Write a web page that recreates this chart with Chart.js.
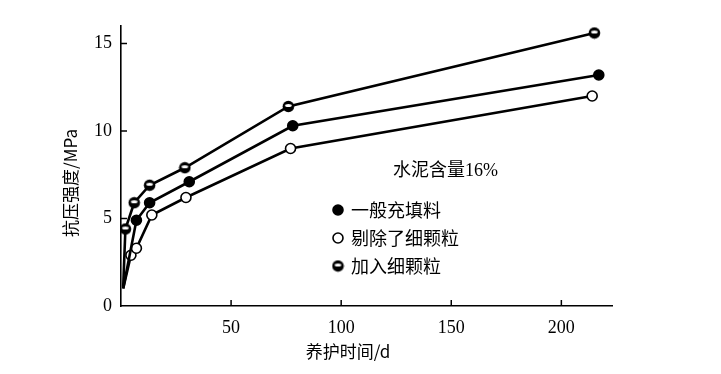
<!DOCTYPE html>
<html>
<head>
<meta charset="utf-8">
<script src="https://cdn.jsdelivr.net/npm/chart.js@4.4.1/dist/chart.umd.min.js"></script>
<style>
  html, body { margin: 0; padding: 0; background: #fff; }
  #wrap { width: 721px; height: 374px; }
</style>
</head>
<body>
<div id="wrap"><canvas id="chart" width="721" height="374"></canvas></div>
<script>
// --- DATA ---
const seriesNames = ['一般充填料', '剔除了细颗粒', '加入细颗粒'];
const xFilled = [1, 7, 13, 31, 78, 217];
const yFilled = [1.0, 4.9, 5.9, 7.1, 10.3, 13.2];
const xOpen = [1, 4.5, 7, 14, 29.5, 77, 214];
const yOpen = [1.0, 2.9, 3.3, 5.2, 6.2, 9.0, 12.0];
const xHalf = [1, 2, 6, 13, 29, 76, 215];
const yHalf = [1.1, 4.4, 5.9, 6.9, 7.9, 11.4, 15.6];
const xTicks = [50, 100, 150, 200];
const yTicks = [0, 5, 10, 15];
const xTitle = '养护时间/d';
const yTitle = '抗压强度/MPa';
const note = '水泥含量16%';

const CJK = '"Noto Sans CJK SC", sans-serif';
const SERIF = '"Liberation Serif", "DejaVu Serif", serif';
const MIXED = '"Liberation Serif", "Noto Sans CJK SC", serif';

// half-filled marker: black dot with a white slit
function halfMarker() {
    const c = document.createElement('canvas');
    c.width = 13; c.height = 13;
    const g = c.getContext('2d');
    g.fillStyle = '#000';
    g.beginPath(); g.arc(6.5, 6.5, 5.8, 0, Math.PI * 2); g.fill();
    g.fillStyle = '#fff';
    g.beginPath(); g.ellipse(6.5, 5.6, 3.3, 1.5, 0, 0, Math.PI * 2); g.fill();
    return c;
}
const halfImg = halfMarker();

const pts = (xs, ys) => xs.map((x, i) => ({ x: x, y: ys[i] }));
const radii = xs => xs.map((x, i) => i === 0 ? 0 : 5);

function drawMarker(ctx, kind, x, y) {
    ctx.save();
    ctx.lineWidth = 1.6;
    ctx.strokeStyle = '#000';
    if (kind === 'half') {
        ctx.drawImage(halfImg, x - 6.5, y - 6.5);
    } else {
        ctx.beginPath(); ctx.arc(x, y, 5, 0, Math.PI * 2);
        ctx.fillStyle = kind === 'filled' ? '#000' : '#fff';
        ctx.fill(); ctx.stroke();
    }
    ctx.restore();
}

// axis titles, inner ticks, note and legend
const decor = {
    id: 'decor',
    afterDraw(chart) {
        const ctx = chart.ctx;
        const xs = chart.scales.x, ys = chart.scales.y;
        ctx.save();
        ctx.strokeStyle = '#000';
        ctx.lineWidth = 1.5;
        xTicks.forEach(v => {
            const px = xs.getPixelForValue(v);
            ctx.beginPath(); ctx.moveTo(px, ys.bottom); ctx.lineTo(px, ys.bottom - 6); ctx.stroke();
        });
        yTicks.slice(1).forEach(v => {
            const py = ys.getPixelForValue(v);
            ctx.beginPath(); ctx.moveTo(xs.left, py); ctx.lineTo(xs.left + 6, py); ctx.stroke();
        });

        ctx.fillStyle = '#000';
        ctx.textBaseline = 'middle';
        ctx.textAlign = 'center';
        ctx.font = '17px ' + CJK;
        ctx.fillText(xTitle, 348, 352);

        ctx.save();
        ctx.translate(71, 183);
        ctx.rotate(-Math.PI / 2);
        ctx.fillText(yTitle, 0, 0);
        ctx.restore();

        ctx.textAlign = 'left';
        ctx.font = '18px ' + MIXED;
        ctx.fillText(note, 393, 171);

        ctx.font = '18px ' + CJK;
        const kinds = ['filled', 'open', 'half'];
        const rows = [210, 238, 266];
        seriesNames.forEach((name, i) => {
            drawMarker(ctx, kinds[i], 338, rows[i]);
            ctx.fillStyle = '#000';
            ctx.fillText(name, 351, rows[i]);
        });
        ctx.restore();
    }
};

const lineStyle = {
    borderColor: '#000',
    borderWidth: 2.6,
    pointBorderColor: '#000',
    pointBorderWidth: 1.6,
    tension: 0,
    fill: false
};

new Chart(document.getElementById('chart'), {
    type: 'line',
    data: {
        datasets: [
            Object.assign({
                label: seriesNames[0], data: pts(xFilled, yFilled),
                pointRadius: radii(xFilled), pointBackgroundColor: '#000'
            }, lineStyle),
            Object.assign({
                label: seriesNames[1], data: pts(xOpen, yOpen),
                pointRadius: radii(xOpen), pointBackgroundColor: '#fff'
            }, lineStyle),
            Object.assign({
                label: seriesNames[2], data: pts(xHalf, yHalf),
                pointRadius: radii(xHalf),
                pointStyle: xHalf.map((x, i) => i === 0 ? 'circle' : halfImg)
            }, lineStyle)
        ]
    },
    options: {
        responsive: false,
        animation: false,
        layout: { padding: { top: 26, right: 109, left: 0, bottom: 0 } },
        plugins: { legend: { display: false }, tooltip: { enabled: false } },
        scales: {
            x: {
                type: 'linear', min: 0, max: 223,
                afterBuildTicks: s => { s.ticks = xTicks.map(v => ({ value: v })); },
                afterFit: s => { s.height = 68; },
                grid: { display: false, drawTicks: false },
                border: { display: true, color: '#000', width: 1.6 },
                ticks: { color: '#000', padding: 11, font: { family: SERIF, size: 18 } }
            },
            y: {
                type: 'linear', min: 0, max: 16,
                afterBuildTicks: s => { s.ticks = yTicks.map(v => ({ value: v })); },
                afterFit: s => { s.width = 121; },
                grid: { display: false, drawTicks: false },
                border: { display: true, color: '#000', width: 1.6 },
                ticks: { color: '#000', padding: 9, font: { family: SERIF, size: 18 } }
            }
        }
    },
    plugins: [decor]
});
</script>
</body>
</html>
